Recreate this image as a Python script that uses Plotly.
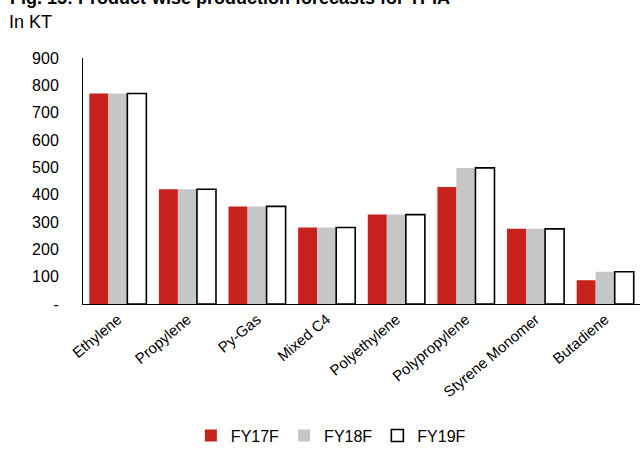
import plotly.graph_objects as go

categories = ["Ethylene", "Propylene", "Py-Gas", "Mixed C4", "Polyethylene",
              "Polypropylene", "Styrene Monomer", "Butadiene"]
fy17 = [770, 420, 357, 280, 327, 428, 275, 87]
fy18 = [770, 420, 357, 280, 327, 498, 275, 118]
fy19 = [770, 420, 357, 280, 327, 498, 275, 118]
tick_vals = [0, 100, 200, 300, 400, 500, 600, 700, 800, 900]
tick_text = ["-", "100", "200", "300", "400", "500", "600", "700", "800", "900"]

font = "Liberation Sans, Arial, sans-serif"

fig = go.Figure()
fig.add_bar(x=categories, y=fy17, name="FY17F", marker=dict(color="#C8221F", line=dict(width=0)))
fig.add_bar(x=categories, y=fy18, name="FY18F", marker=dict(color="#C5C6C8", line=dict(width=0)))
fig.add_bar(x=categories, y=fy19, name="FY19F",
            marker=dict(color="white", line=dict(color="black", width=1.6)))

fig.update_layout(
    width=641, height=453,
    margin=dict(l=83, r=1, t=58, b=146),
    plot_bgcolor="white", paper_bgcolor="white",
    barmode="group", bargap=0.18, bargroupgap=0,
    font=dict(family=font, size=13, color="black"),
    showlegend=True,
    legend=dict(orientation="h", x=0.445, xanchor="center", y=-0.535, yanchor="middle",
                font=dict(size=16), itemwidth=30, traceorder="normal"),
    xaxis=dict(showline=True, linecolor="black", linewidth=1, ticks="", tickangle=-40,
               tickfont=dict(size=15), showgrid=False),
    yaxis=dict(range=[0, 900], tickvals=tick_vals, ticktext=tick_text, showline=True,
               linecolor="black", linewidth=1, ticks="", showgrid=False, zeroline=False,
               tickfont=dict(size=16), ticklabelstandoff=20),
)
fig.add_annotation(text="<b>Fig. 15: Product-wise production forecasts for TPIA</b>",
                   xref="paper", yref="paper", x=-0.135, y=1.245, xanchor="left", yanchor="middle",
                   showarrow=False, font=dict(size=18, family=font))
fig.add_annotation(text="In KT", xref="paper", yref="paper", x=-0.137, y=1.145,
                   xanchor="left", yanchor="middle", showarrow=False, font=dict(size=18, family=font))
fig.write_html("out.html")
